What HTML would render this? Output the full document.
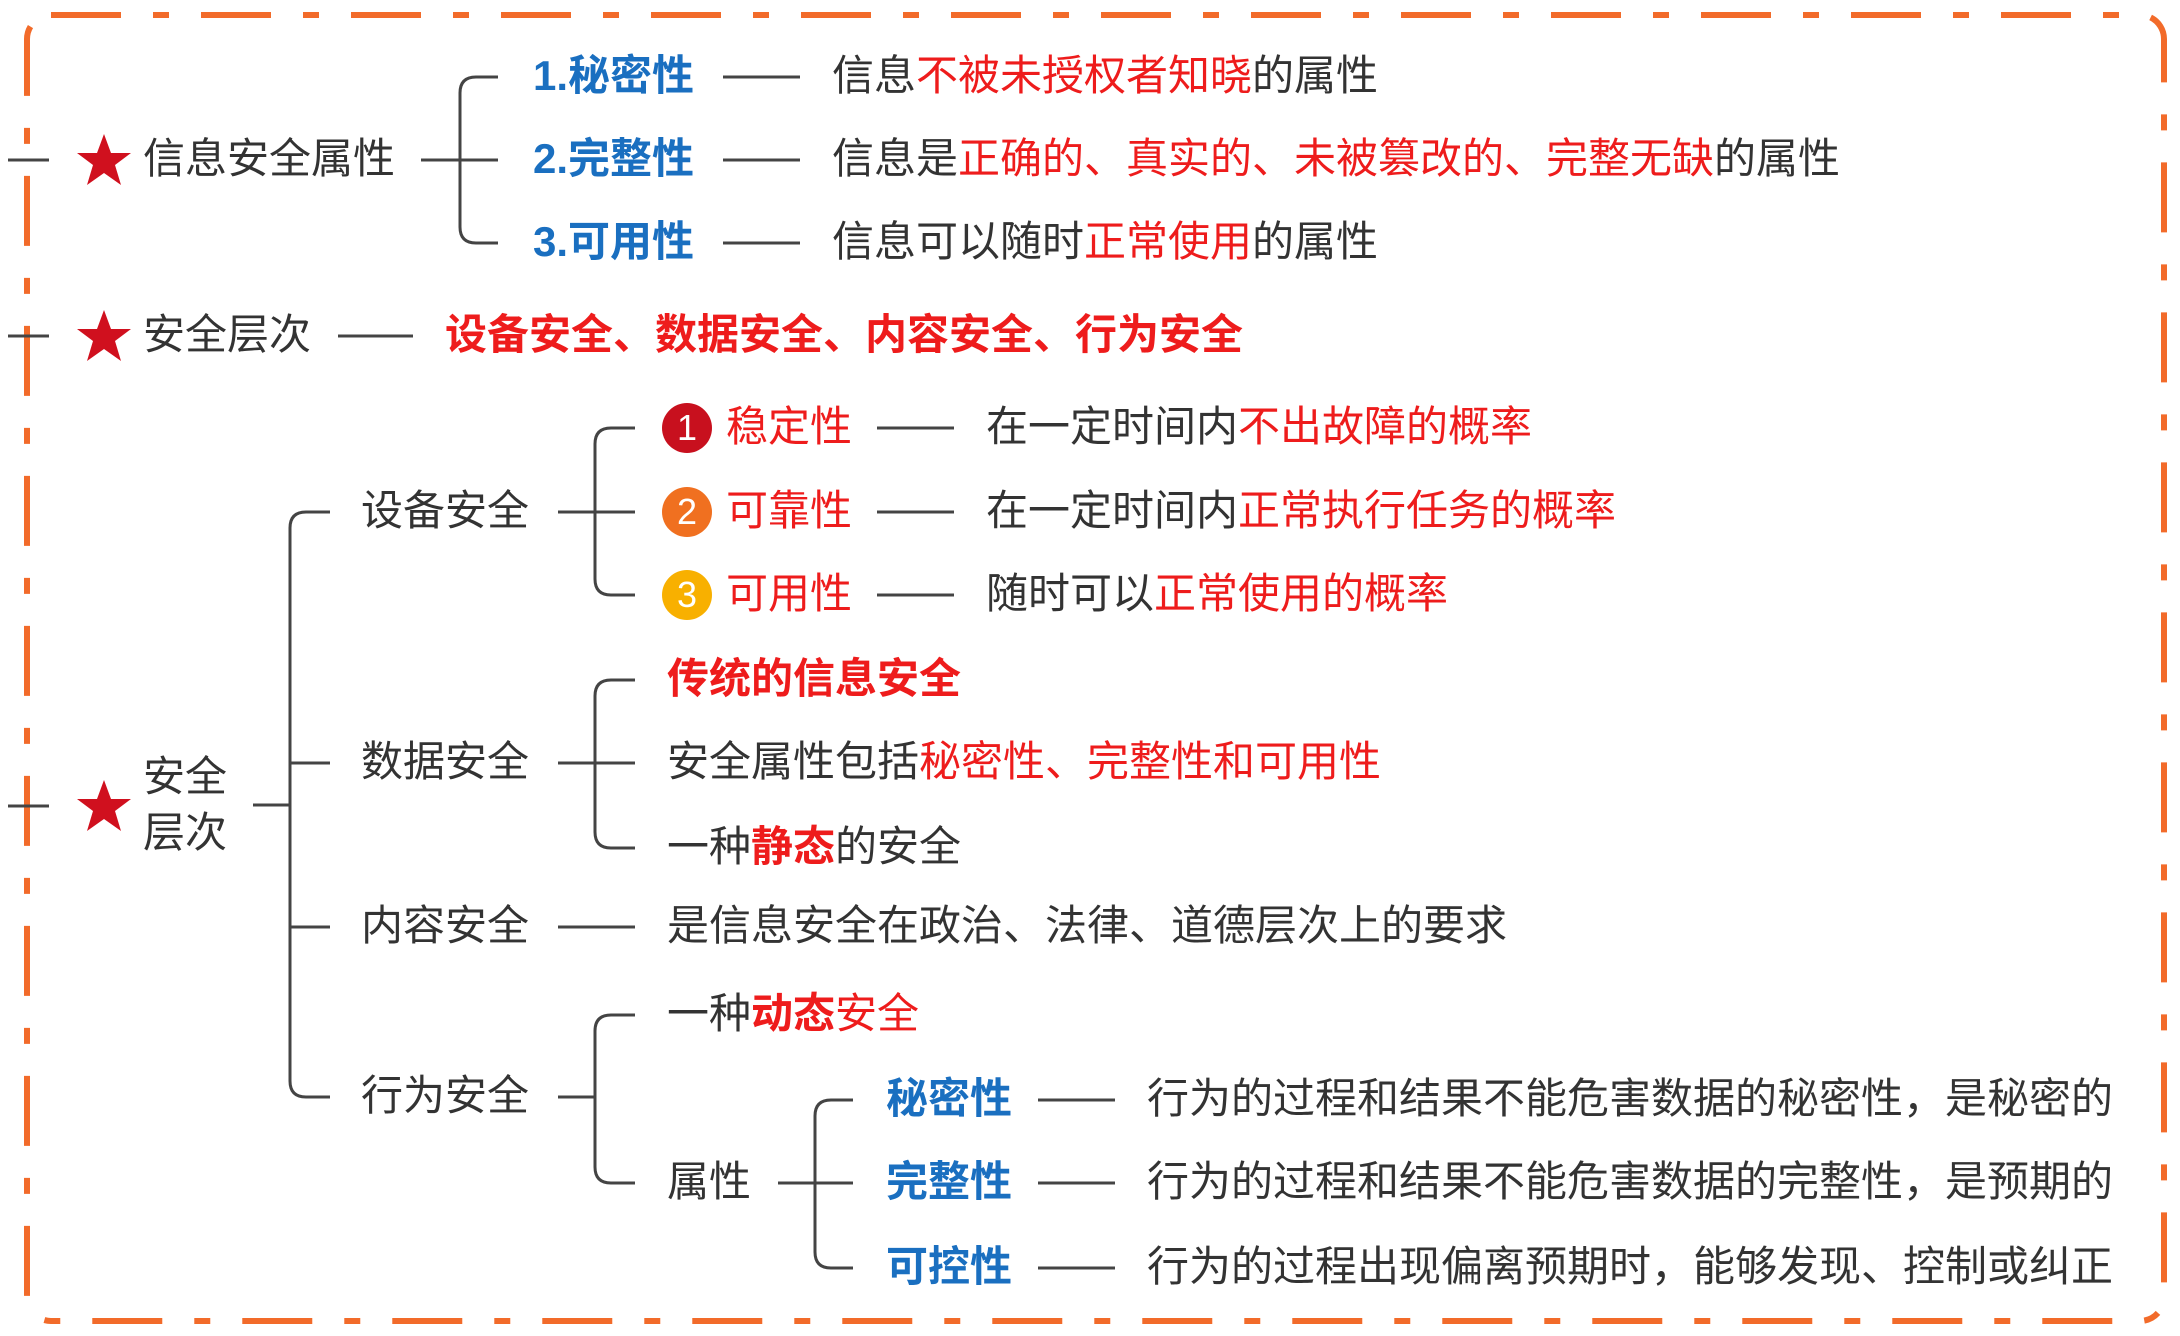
<!DOCTYPE html>
<html><head><meta charset="utf-8">
<style>
html,body{margin:0;padding:0;background:#fff;}
body{width:2180px;height:1336px;position:relative;overflow:hidden;font-family:"Liberation Sans","Noto Sans CJK SC",sans-serif;}
.t{position:absolute;font-size:42px;line-height:1;white-space:nowrap;transform:translateY(-52%);color:#333;}
.r{color:#ee1c1c;}
.b{font-weight:bold;}
.bl{color:#1a6fc0;font-weight:bold;}
.c{position:absolute;width:50px;height:50px;border-radius:50%;color:#fff;font-size:36px;line-height:50px;text-align:center;transform:translate(-50%,-50%);}
</style></head><body>
<svg width="2180" height="1336" style="position:absolute;left:0;top:0">
<rect x="27" y="15" width="2137" height="1306" rx="24" fill="none" stroke="#f26b2a" stroke-width="6" stroke-dasharray="70 32 16 32"/>
<g fill="none" stroke="#444" stroke-width="3">
<!-- ticks -->
<path d="M8 160H49M8 336H49M8 806H49"/>
<!-- group1 -->
<path d="M421 160H460M498 77H476Q460 77 460 93V227Q460 243 476 243H498M460 160H498"/>
<path d="M723 77H800M723 160H800M723 243H800"/>
<path d="M338 336H413"/>
<!-- section3 trunk -->
<path d="M253 805H290M330 512H306Q290 512 290 528V1081Q290 1097 306 1097H330M290 763H330M290 927H330"/>
<!-- 设备安全 -->
<path d="M558 512H595M635 428H611Q595 428 595 444V579Q595 595 611 595H635M595 512H635"/>
<path d="M877 428H954M877 512H954M877 595H954"/>
<!-- 数据安全 -->
<path d="M558 763H595M635 680H611Q595 680 595 696V832Q595 848 611 848H635M595 763H635"/>
<!-- 内容安全 -->
<path d="M558 927H635"/>
<!-- 行为安全 -->
<path d="M558 1097H595M635 1015H611Q595 1015 595 1031V1167Q595 1183 611 1183H635"/>
<!-- 属性 -->
<path d="M778 1183H815M853 1100H831Q815 1100 815 1116V1252Q815 1268 831 1268H853M815 1183H853"/>
<path d="M1038 1100H1115M1038 1183H1115M1038 1268H1115"/>
</g>
<g fill="#d0101e">
<polygon transform="translate(104,162)" points="0,-28 7,-9 27,-9 11,3 17,23 0,11 -17,23 -11,3 -27,-9 -7,-9"/>
<polygon transform="translate(104,338)" points="0,-28 7,-9 27,-9 11,3 17,23 0,11 -17,23 -11,3 -27,-9 -7,-9"/>
<polygon transform="translate(104,808)" points="0,-28 7,-9 27,-9 11,3 17,23 0,11 -17,23 -11,3 -27,-9 -7,-9"/>
</g>
</svg>

<div class="t" style="left:143px;top:160px">信息安全属性</div>
<div class="t bl" style="left:533px;top:77px">1.秘密性</div>
<div class="t bl" style="left:533px;top:160px">2.完整性</div>
<div class="t bl" style="left:533px;top:243px">3.可用性</div>
<div class="t" style="left:832px;top:77px">信息<span class="r">不被未授权者知晓</span>的属性</div>
<div class="t" style="left:832px;top:160px">信息是<span class="r">正确的、真实的、未被篡改的、完整无缺</span>的属性</div>
<div class="t" style="left:832px;top:243px">信息可以随时<span class="r">正常使用</span>的属性</div>

<div class="t" style="left:143px;top:336px">安全层次</div>
<div class="t r b" style="left:445px;top:336px">设备安全、数据安全、内容安全、行为安全</div>

<div class="t" style="left:143px;top:778px">安全</div>
<div class="t" style="left:143px;top:834px">层次</div>

<div class="t" style="left:361px;top:512px">设备安全</div>
<div class="t" style="left:361px;top:763px">数据安全</div>
<div class="t" style="left:361px;top:927px">内容安全</div>
<div class="t" style="left:361px;top:1097px">行为安全</div>

<div class="c" style="left:687px;top:428px;background:#c8101e">1</div>
<div class="c" style="left:687px;top:512px;background:#f07020">2</div>
<div class="c" style="left:687px;top:595px;background:#f8b000">3</div>
<div class="t r" style="left:726px;top:428px">稳定性</div>
<div class="t r" style="left:726px;top:512px">可靠性</div>
<div class="t r" style="left:726px;top:595px">可用性</div>
<div class="t" style="left:986px;top:428px">在一定时间内<span class="r">不出故障的概率</span></div>
<div class="t" style="left:986px;top:512px">在一定时间内<span class="r">正常执行任务的概率</span></div>
<div class="t" style="left:986px;top:595px">随时可以<span class="r">正常使用的概率</span></div>

<div class="t r b" style="left:667px;top:680px">传统的信息安全</div>
<div class="t" style="left:667px;top:763px">安全属性包括<span class="r">秘密性、完整性和可用性</span></div>
<div class="t" style="left:667px;top:848px">一种<span class="r b">静态</span>的安全</div>

<div class="t" style="left:667px;top:927px">是信息安全在政治、法律、道德层次上的要求</div>

<div class="t" style="left:667px;top:1015px">一种<span class="r b">动态</span><span class="r">安全</span></div>
<div class="t" style="left:667px;top:1183px">属性</div>
<div class="t bl" style="left:886px;top:1100px">秘密性</div>
<div class="t bl" style="left:886px;top:1183px">完整性</div>
<div class="t bl" style="left:886px;top:1268px">可控性</div>
<div class="t" style="left:1147px;top:1100px">行为的过程和结果不能危害数据的秘密性，是秘密的</div>
<div class="t" style="left:1147px;top:1183px">行为的过程和结果不能危害数据的完整性，是预期的</div>
<div class="t" style="left:1147px;top:1268px">行为的过程出现偏离预期时，能够发现、控制或纠正</div>
</body></html>
